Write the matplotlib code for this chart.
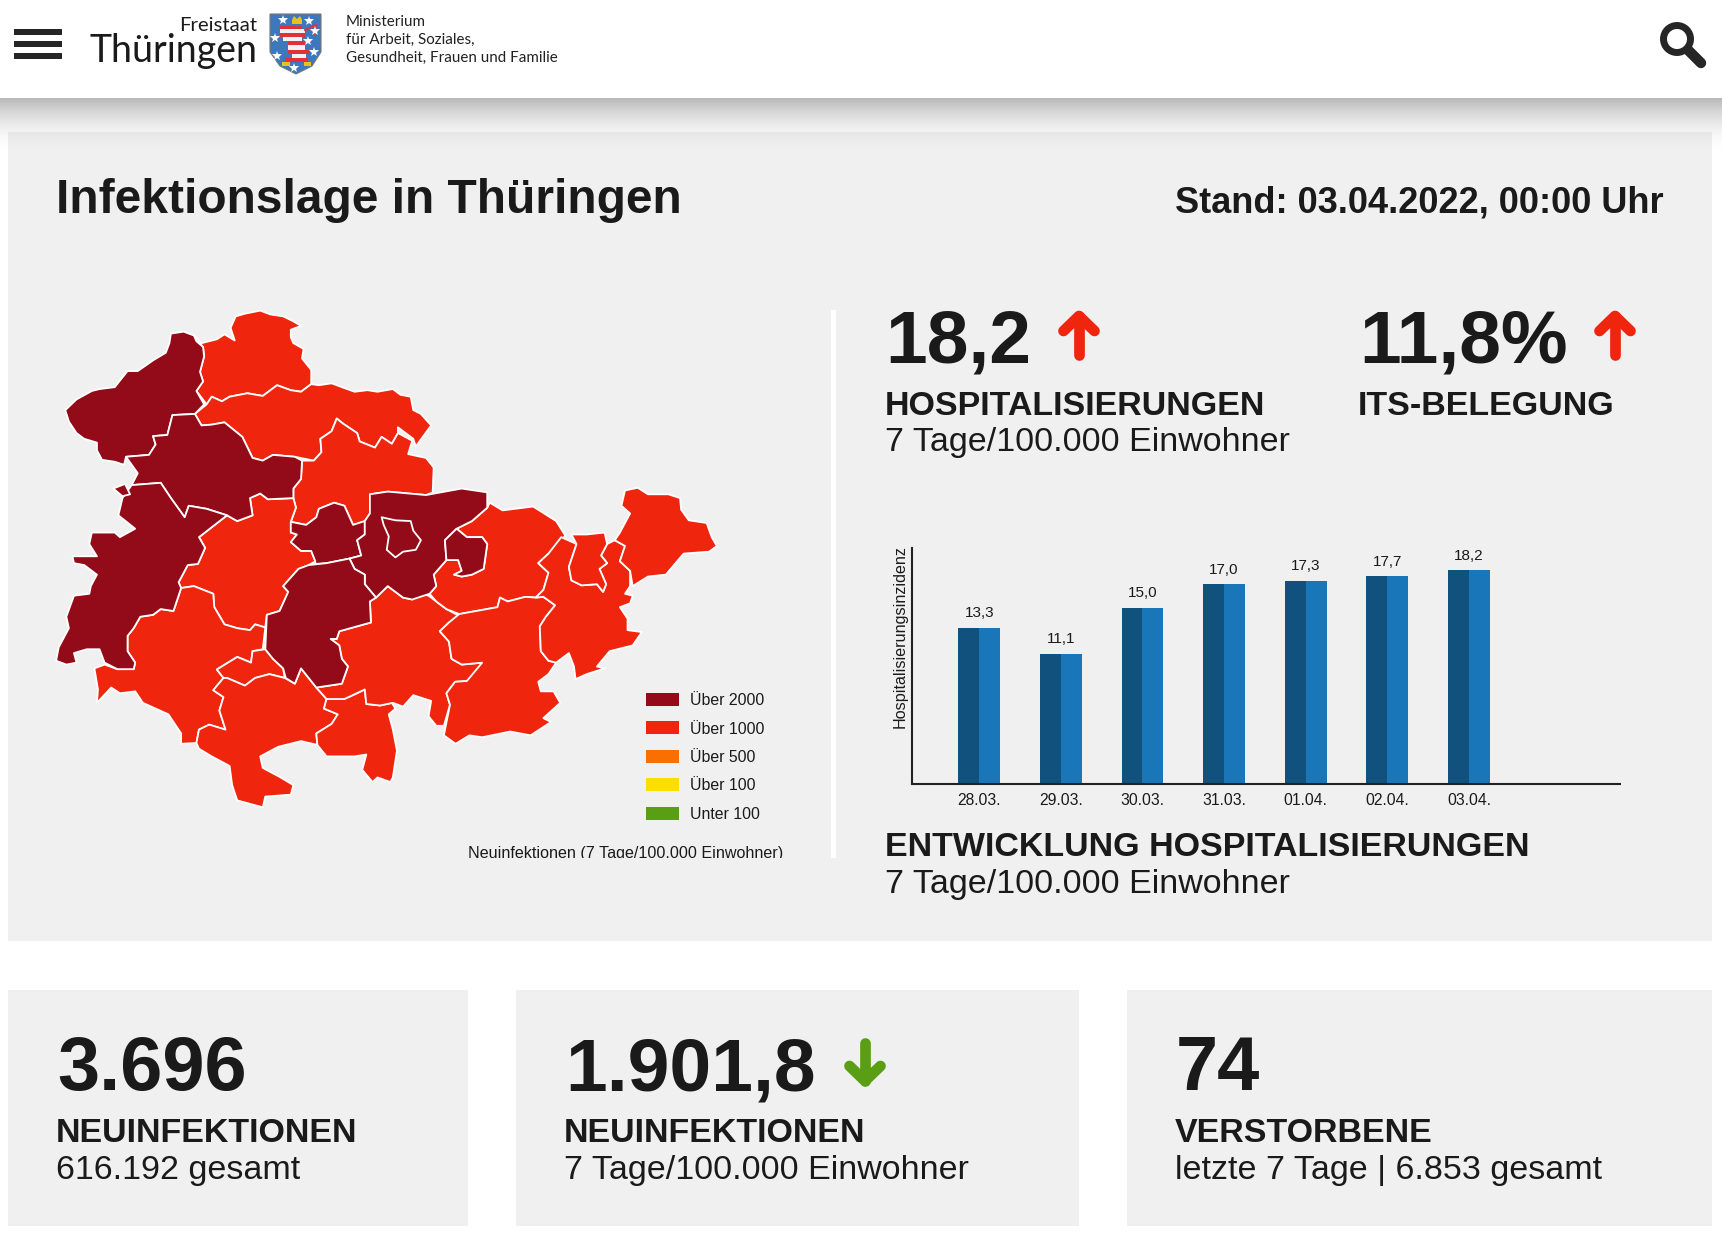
import numpy as np
import matplotlib
matplotlib.use('Agg')
import matplotlib.pyplot as plt
from matplotlib.patches import Polygon, Rectangle, Circle

plt.rcParams['font.family'] = ['Liberation Sans', 'DejaVu Sans']

# Balkendiagramm
tage = ['28.03.', '29.03.', '30.03.', '31.03.', '01.04.', '02.04.', '03.04.']
hospitalisierung = [13.3, 11.1, 15.0, 17.0, 17.3, 17.7, 18.2]

# Legende
legende_namen = ['Über 2000', 'Über 1000', 'Über 500', 'Über 100', 'Unter 100']
legende_farben = ['#930A18', '#F0250D', '#FA7000', '#FFDD00', '#5A9E14']
DUNKEL = legende_farben[0]
ROT = legende_farben[1]

# Landkreise, Umrisse (Koordinaten der Karte)
eichsfeld = [(335,140),(360,135),(380,145),(385,160),(398,175),(400,200),(392,240),(398,265),(385,290),(400,325),(382,350),(338,353),(328,405),(300,408),(305,430),(292,457),(247,462),(243,483),(225,475),(200,470),(190,445),(190,425),(165,415),(150,400),(135,370),(128,340),(150,312),(180,290),(195,285),(225,280),(232,268),(250,238),(270,238),(300,210),(325,190),(332,165)]
nordhausen = [(380,145),(395,165),(425,155),(440,142),(460,158),(452,125),(462,95),(480,88),(510,80),(530,90),(555,95),(575,108),(590,120),(570,130),(570,150),(575,165),(595,180),(592,205),(610,235),(610,272),(590,292),(570,288),(543,275),(515,303),(485,296),(450,305),(435,317),(415,305),(405,325),(385,290),(398,265),(392,240),(400,200),(398,175)]
kyffhaeuser = [(405,325),(415,305),(435,317),(450,305),(485,296),(515,303),(543,275),(570,288),(590,292),(610,272),(625,275),(650,270),(670,280),(695,292),(720,288),(740,292),(770,285),(785,300),(805,305),(810,340),(825,350),(845,380),(815,435),(810,415),(780,385),(780,400),(768,428),(748,410),(735,438),(705,422),(700,400),(672,375),(660,362),(650,395),(628,415),(630,450),(615,472),(578,462),(535,457),(515,472),(495,465),(475,410),(440,372),(415,378),(395,380),(382,350)]
unstrut_hainich = [(338,353),(382,350),(395,380),(415,378),(440,372),(475,410),(495,465),(515,472),(535,457),(578,462),(592,472),(590,520),(575,545),(575,570),(525,573),(510,558),(490,570),(495,615),(465,630),(445,615),(405,598),(370,590),(362,620),(335,570),(315,530),(258,536),(270,505),(247,462),(292,457),(305,430),(300,408),(328,405)]
soemmerda = [(592,472),(615,472),(630,450),(628,415),(650,395),(660,362),(672,375),(700,400),(705,422),(735,438),(748,410),(768,428),(780,400),(808,420),(800,455),(835,465),(850,490),(848,555),(835,562),(760,553),(725,560),(725,610),(715,630),(692,640),(675,590),(655,582),(625,598),(620,620),(600,640),(570,632),(580,595),(575,570),(575,545),(590,520)]
wartburg = [(258,536),(315,530),(335,570),(362,620),(370,590),(405,598),(445,615),(390,672),(402,700),(388,742),(368,745),(350,790),(355,805),(340,865),(315,860),(300,875),(275,880),(262,910),(250,930),(250,970),(265,1000),(262,1017),(230,1017),(205,1000),(195,965),(170,965),(145,975),(150,1000),(130,1005),(110,995),(115,960),(135,910),(130,880),(145,825),(175,820),(178,800),(190,770),(165,745),(145,740),(142,722),(190,722),(175,690),(180,660),(225,660),(235,672),(265,650),(232,615),(240,570)]
wartburg_klein = [(222,545),(245,533),(255,560),(240,565)]
gotha = [(445,615),(465,630),(495,615),(490,570),(510,558),(525,573),(575,570),(580,595),(570,632),(570,660),(582,665),(570,685),(590,708),(610,708),(618,735),(605,745),(585,755),(555,800),(565,815),(548,865),(523,875),(520,908),(500,900),(490,915),(465,910),(440,900),(420,855),(418,820),(380,800),(355,805),(350,790),(368,745),(388,742),(402,700),(390,672)]
erfurt = [(570,632),(600,640),(620,620),(625,598),(655,582),(675,590),(692,640),(715,630),(715,665),(700,680),(708,720),(685,728),(640,740),(618,742),(618,735),(610,708),(590,708),(570,685),(582,665),(570,660)]
weimarer_land = [(725,560),(760,553),(835,562),(905,545),(955,555),(955,595),(925,630),(895,650),(872,680),(875,732),(850,770),(855,800),(842,820),(808,835),(790,830),(760,800),(737,830),(715,795),(715,770),(695,755),(685,728),(708,720),(700,680),(715,665),(715,630),(725,610)]
weimar = [(748,620),(775,628),(805,630),(810,655),(825,680),(815,705),(790,710),(775,725),(758,705),(762,670),(752,640)]
jena = [(895,650),(915,672),(945,672),(955,690),(948,755),(925,770),(905,775),(890,770),(905,760),(898,732),(875,732),(872,680)]
ilm_kreis = [(585,755),(605,745),(640,740),(685,728),(695,755),(715,770),(715,795),(737,830),(725,840),(727,895),(665,918),(660,938),(648,938),(665,955),(670,990),(682,1010),(670,1055),(620,1065),(590,1015),(578,1055),(560,1040),(555,1015),(535,990),(520,965),(523,875),(548,865),(565,815),(555,800)]
schmalkalden = [(262,910),(275,880),(300,875),(315,860),(340,865),(355,805),(380,800),(418,820),(420,855),(440,900),(465,910),(490,915),(500,900),(520,908),(515,965),(495,970),(492,1000),(465,985),(425,1018),(438,1040),(418,1072),(438,1090),(430,1125),(442,1175),(410,1162),(390,1175),(385,1210),(355,1212),(355,1185),(330,1135),(280,1105),(265,1075),(235,1080),(218,1065),(190,1105),(192,1070),(185,1015),(205,1005),(230,1017),(262,1017),(265,1000),(250,970),(250,930)]
suhl = [(425,1018),(465,985),(492,1000),(495,970),(520,965),(535,990),(555,1015),(558,1040),(528,1030),(500,1040),(480,1060),(445,1040),(438,1040)]
hildburghausen = [(438,1040),(445,1040),(480,1060),(500,1040),(528,1030),(558,1040),(578,1055),(590,1015),(620,1065),(640,1095),(635,1120),(662,1135),(650,1160),(620,1185),(622,1215),(590,1205),(545,1220),(510,1245),(515,1275),(550,1300),(575,1320),(570,1345),(520,1350),(515,1378),(465,1360),(455,1320),(450,1270),(415,1245),(390,1225),(385,1210),(390,1175),(410,1162),(442,1175),(430,1125),(438,1090),(418,1072)]
sonneberg = [(640,1095),(675,1095),(700,1080),(715,1070),(718,1108),(745,1112),(768,1105),(775,1120),(762,1135),(770,1175),(778,1230),(770,1300),(765,1312),(740,1300),(730,1312),(710,1280),(718,1240),(695,1245),(660,1245),(640,1245),(622,1215),(620,1185),(650,1160),(662,1135),(635,1120)]
saalfeld = [(737,830),(760,800),(790,830),(808,835),(812,815),(840,825),(855,840),(875,860),(900,878),(880,895),(862,918),(880,945),(885,990),(905,1005),(945,1000),(940,1020),(915,1048),(892,1050),(875,1080),(882,1110),(870,1165),(855,1165),(840,1140),(845,1100),(810,1085),(790,1115),(770,1105),(745,1112),(718,1108),(715,1070),(675,1095),(640,1095),(620,1065),(670,1055),(682,1010),(670,990),(665,955),(648,938),(660,938),(665,918),(727,895),(725,840)]
saale_holzland = [(855,800),(850,770),(875,732),(898,732),(905,760),(890,770),(905,775),(925,770),(948,755),(955,690),(945,672),(915,672),(895,650),(925,630),(955,595),(960,582),(985,602),(1045,592),(1090,630),(1108,668),(1075,715),(1055,740),(1075,765),(1065,810),(1050,830),(1030,828),(995,840),(980,830),(975,855),(900,873),(875,860),(855,840),(842,820)]
saale_orla = [(900,873),(975,855),(980,830),(995,840),(1030,828),(1050,830),(1065,828),(1088,850),(1070,880),(1058,905),(1060,970),(1075,995),(1090,1000),(1075,1030),(1055,1050),(1060,1075),(1085,1075),(1098,1105),(1065,1145),(1080,1155),(1040,1190),(1000,1180),(945,1195),(920,1190),(893,1212),(870,1190),(882,1110),(875,1080),(892,1050),(915,1048),(945,1000),(905,1005),(885,990),(880,945),(862,918),(880,895)]
greiz = [(1065,828),(1050,830),(1065,810),(1075,765),(1055,740),(1075,715),(1100,672),(1130,690),(1115,750),(1120,785),(1140,798),(1170,795),(1182,815),(1188,795),(1175,755),(1190,740),(1178,720),(1190,690),(1205,680),(1225,695),(1215,735),(1235,760),(1235,800),(1225,820),(1240,825),(1235,845),(1215,855),(1230,885),(1230,915),(1258,920),(1240,955),(1195,970),(1170,1010),(1185,1015),(1150,1030),(1128,1043),(1125,1010),(1115,975),(1090,1000),(1075,995),(1060,970),(1058,905),(1070,880),(1088,850)]
gera = [(1120,665),(1150,665),(1185,660),(1190,690),(1178,720),(1190,740),(1175,755),(1188,795),(1182,815),(1170,795),(1140,798),(1120,785),(1115,750),(1130,690)]
altenburg = [(1215,660),(1235,610),(1218,590),(1225,550),(1250,543),(1270,560),(1310,560),(1333,570),(1335,600),(1350,628),(1385,635),(1395,672),(1405,695),(1390,710),(1340,715),(1305,770),(1270,775),(1240,800),(1235,760),(1215,735),(1225,695),(1205,680)]

kreise_dunkel = [eichsfeld, unstrut_hainich, wartburg, wartburg_klein, erfurt, weimarer_land, weimar, jena, ilm_kreis]
kreise_rot = [nordhausen, kyffhaeuser, soemmerda, gotha, schmalkalden, suhl, hildburghausen, sonneberg, saalfeld, saale_holzland, saale_orla, greiz, gera, altenburg]

GRAU = '#F0F0F0'
TEXT = '#1A1A1A'

fig = plt.figure(figsize=(17.22, 12.37), dpi=100, facecolor='white')

# Hintergrund in Pixelkoordinaten
ax = fig.add_axes([0, 0, 1, 1])
ax.axis('off')


def text(x, y, s, size, bold=False, ha='left', **kw):
    ax.text(x, y, s, fontsize=size, fontweight='bold' if bold else 'normal',
            ha=ha, va='baseline', color=kw.pop('color', TEXT), **kw)


def pfeil(x, y0, y1, farbe):
    # y0 = Schaft-Ende, y1 = Spitze
    ax.plot([x, x], [y0, y1], color=farbe, lw=7.7, solid_capstyle='round')
    d = 1 if y1 > y0 else -1
    ax.plot([x - 15.5, x, x + 15.5], [y1 - d * 15, y1, y1 - d * 15], color=farbe,
            lw=7.7, solid_joinstyle='round', solid_capstyle='round')


# Panels
ax.add_patch(Rectangle((8, 132), 1704, 809, color=GRAU, lw=0))
for x0, x1 in [(8, 468), (516, 1079), (1127, 1712)]:
    ax.add_patch(Rectangle((x0, 990), x1 - x0, 236, color=GRAU, lw=0))
ax.add_patch(Rectangle((831, 310), 5, 548, color='white', lw=0))

# Schatten unter der Kopfzeile, liegt auch über dem Panel
schatten = np.zeros((60, 1, 4))
schatten[:, 0, 3] = 0.28 * np.linspace(1, 0, 60) ** 2
ax.imshow(schatten, extent=(0, 1722, 156, 98), aspect='auto', zorder=3)
ax.set_xlim(0, 1722)
ax.set_ylim(1237, 0)

# Kopfzeile
for y in [29, 41, 53]:
    ax.add_patch(Rectangle((14, y), 48, 6, color='#262626', lw=0))

ax.text(257, 31, 'Freistaat', fontsize=14.7, family='Lato', ha='right', va='baseline', color=TEXT)
ax.text(257, 62, 'Thüringen', fontsize=27, family='Lato', ha='right', va='baseline', color=TEXT)
for y, s in zip([26, 44, 62], ['Ministerium', 'für Arbeit, Soziales,', 'Gesundheit, Frauen und Familie']):
    ax.text(345.5, y, s, fontsize=10.9, family='Lato', va='baseline', color='#222222')

# Wappen
schild = [(270, 14), (321, 14), (321, 52), (312, 66), (296, 74), (280, 66), (270, 52)]
ax.add_patch(Polygon(schild, closed=True, fc='#3D78BC', ec='#777777', lw=0.8))
loewe_streifen = [(280, 302, 26, 29, '#E0303A'), (280, 305, 29, 33, '#F2F2F2'), (280, 305, 33, 37, '#E0303A'),
                  (283, 302, 37, 41, '#F2F2F2'), (288, 305, 41, 45, '#E0303A'), (288, 305, 45, 50, '#F2F2F2'),
                  (288, 310, 50, 54, '#E0303A'), (292, 306, 54, 58, '#F2F2F2'), (285, 308, 58, 62, '#E0303A'),
                  (282, 290, 62, 66, '#E8C21A'), (304, 311, 62, 66, '#E8C21A')]
for x0, x1, y0, y1, farbe in loewe_streifen:
    ax.add_patch(Rectangle((x0, y0), x1 - x0, y1 - y0, color=farbe, lw=0))
ax.add_patch(Polygon([(292, 20), (294, 16), (297, 19), (300, 16), (302, 20), (302, 24), (292, 24)], closed=True,
                     fc='#E8C21A', ec='none'))
ax.plot([305, 316, 315], [30, 25, 35], color='#E0303A', lw=1.4)
for sx, sy in [(283, 20), (309, 21), (315, 31), (275, 38), (308, 41), (314, 52), (277, 56), (294, 68)]:
    ax.plot(sx, sy, marker='*', ms=7, color='white', mew=0)

# Lupe
ax.add_patch(Circle((1677, 39), 13.5, fill=False, ec='#262626', lw=5))
ax.plot([1688, 1701], [50, 63], color='#262626', lw=7.5, solid_capstyle='round')

# Überschriften
text(56, 213, 'Infektionslage in Thüringen', 34.5, bold=True)
text(1664, 213, 'Stand: 03.04.2022, 00:00 Uhr', 26, bold=True, ha='right')

# Kennzahlen rechts
text(885, 363, '18,2', 54, bold=True)
pfeil(1079, 355, 316, ROT)
text(1359, 363, '11,8%', 54, bold=True)
pfeil(1615, 355, 316, ROT)
text(885, 415, 'HOSPITALISIERUNGEN', 24.5, bold=True)
text(885, 451, '7 Tage/100.000 Einwohner', 24.5)
text(1358, 415, 'ITS-BELEGUNG', 24.5, bold=True)
text(885, 856, 'ENTWICKLUNG HOSPITALISIERUNGEN', 24.5, bold=True)
text(885, 893, '7 Tage/100.000 Einwohner', 24.5)

# Kacheln unten
text(57, 1090, '3.696', 54.5, bold=True)
text(56, 1142, 'NEUINFEKTIONEN', 24.5, bold=True)
text(56, 1179, '616.192 gesamt', 24.5)
text(565, 1090, '1.901,8', 54, bold=True)
pfeil(865, 1043, 1081, '#5A9E14')
text(564, 1142, 'NEUINFEKTIONEN', 24.5, bold=True)
text(564, 1179, '7 Tage/100.000 Einwohner', 24.5)
text(1176, 1090, '74', 54.5, bold=True)
text(1175, 1142, 'VERSTORBENE', 24.5, bold=True)
text(1175, 1179, 'letzte 7 Tage | 6.853 gesamt', 24.5)

# Karte
ax_karte = fig.add_axes([0, 1 - 880 / 1237, 800 / 1722, 600 / 1237])
ax_karte.set_xlim(0, 1568)
ax_karte.set_ylim(1568, 0)
ax_karte.axis('off')
for farbe, kreise in [(ROT, kreise_rot), (DUNKEL, kreise_dunkel)]:
    for kreis in kreise:
        ax_karte.add_patch(Polygon(kreis, closed=True, fc=farbe, ec='white', lw=1.3, joinstyle='round'))

for name, farbe, y in zip(legende_namen, legende_farben, [1096, 1170, 1244, 1318, 1393]):
    ax_karte.add_patch(Rectangle((1267, y - 17), 64, 34, color=farbe, lw=0))
    ax_karte.text(1352, y + 4, name, fontsize=11.4, va='center', color=TEXT)
unterschrift = ax_karte.text(918, 1511, 'Neuinfektionen (7 Tage/100.000 Einwohner)', fontsize=11.6,
                             va='baseline', color=TEXT)
unterschrift.set_clip_on(True)
unterschrift.set_clip_path(Rectangle((0, 0), 1568, 1511, transform=ax_karte.transData))

# Balken
ax_bar = fig.add_axes([911.5 / 1722, 1 - 784.3 / 1237, (1620 - 911.5) / 1722, (784.3 - 548) / 1237])
ax_bar.patch.set_alpha(0)
pos = np.arange(len(tage))
breite = 0.256
ax_bar.bar(pos - breite / 2, hospitalisierung, breite, color='#10527D')
ax_bar.bar(pos + breite / 2, hospitalisierung, breite, color='#1976B8')
for p, wert in zip(pos, hospitalisierung):
    ax_bar.annotate(f'{wert:.1f}'.replace('.', ','), (p, wert), xytext=(0, 7.7), textcoords='offset points',
                    ha='center', va='baseline', fontsize=11, color=TEXT)
ax_bar.set_xlim(-0.83, 7.85)
ax_bar.set_ylim(0, 20.1)
ax_bar.set_xticks(pos)
ax_bar.set_xticklabels(tage, fontsize=11.3, color=TEXT)
ax_bar.set_yticks([])
ax_bar.tick_params(axis='x', length=0, pad=6)
ax_bar.spines['top'].set_visible(False)
ax_bar.spines['right'].set_visible(False)
ax_bar.spines['left'].set_linewidth(1.5)
ax_bar.spines['bottom'].set_linewidth(1.5)
ax_bar.spines['left'].set_color('#222222')
ax_bar.spines['bottom'].set_color('#222222')
fig.text(900 / 1722, 1 - 637 / 1237, 'Hospitalisierungsinzidenz', rotation=90, fontsize=11.6, ha='center',
         va='center', color=TEXT)

fig.savefig('out.png', dpi=100)
